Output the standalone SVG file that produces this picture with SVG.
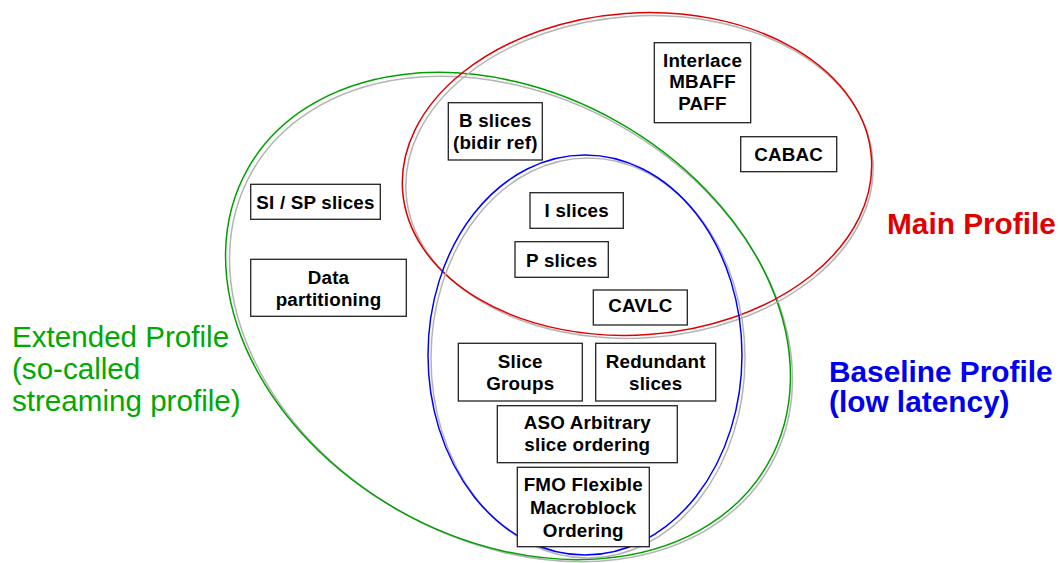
<svg xmlns="http://www.w3.org/2000/svg" width="1060" height="563" viewBox="0 0 1060 563">
<style>
.sh{fill:none;stroke:#b4b4b4;stroke-width:1.5}
.el{fill:none;stroke-width:1.5}
.box{fill:#fff;stroke:#222;stroke-width:1.3}
.t{font-family:"Liberation Sans",Arial,sans-serif;font-weight:bold;font-size:18.8px;letter-spacing:0.2px;fill:#000;text-anchor:middle}
.lab{font-family:"Liberation Sans",Arial,sans-serif;font-size:29.6px}
.bl{font-size:29.8px;font-weight:bold}
</style>
<rect width="1060" height="563" fill="#fff"/>
<g id="extended-profile">
<ellipse class="sh" cx="511" cy="319" rx="298" ry="222" transform="rotate(29.5 511 319)"/>
<ellipse class="el" stroke="#00a000" cx="508" cy="316" rx="299" ry="223" transform="rotate(29.5 508 316)"/>
<text class="lab" fill="#00a800" x="12" y="347">Extended Profile</text>
<text class="lab" fill="#00a800" x="12" y="379">(so-called</text>
<text class="lab" fill="#00a800" x="12" y="411">streaming profile)</text>
</g>
<g id="main-profile">
<ellipse class="sh" cx="639.5" cy="177" rx="234" ry="161" transform="rotate(-4 639.5 177)"/>
<ellipse class="el" stroke="#e00000" cx="637" cy="174" rx="235" ry="161" transform="rotate(-4 637 174)"/>
<text class="lab bl" fill="#e00000" x="887" y="234">Main Profile</text>
</g>
<g id="baseline-profile">
<ellipse class="sh" cx="588" cy="358" rx="157" ry="200"/>
<ellipse class="el" stroke="#0000ff" cx="585" cy="355" rx="157" ry="200"/>
<text class="lab bl" fill="#0000ee" x="829" y="382">Baseline Profile</text>
<text class="lab bl" fill="#0000ee" x="829" y="412">(low latency)</text>
</g>
<g id="interlace">
<rect class="box" x="654.3" y="42.7" width="96.4" height="80"/>
<text class="t" x="702.5" y="66.7">Interlace</text>
<text class="t" x="702.5" y="88.3">MBAFF</text>
<text class="t" x="702.5" y="110">PAFF</text>
</g>
<g id="cabac">
<rect class="box" x="740.7" y="136.7" width="96" height="35"/>
<text class="t" x="788.7" y="161">CABAC</text>
</g>
<g id="b-slices">
<rect class="box" x="448.3" y="102.7" width="94" height="57.3"/>
<text class="t" x="495.3" y="126.7">B slices</text>
<text class="t" x="495.3" y="148.5">(bidir ref)</text>
</g>
<g id="si-sp-slices">
<rect class="box" x="250.7" y="184.3" width="129.6" height="35"/>
<text class="t" x="315.5" y="209">SI / SP slices</text>
</g>
<g id="data-partitioning">
<rect class="box" x="250.7" y="259.3" width="155.6" height="57"/>
<text class="t" x="328.5" y="284">Data</text>
<text class="t" x="328.5" y="305.7">partitioning</text>
</g>
<g id="i-slices">
<rect class="box" x="530" y="192.7" width="93.3" height="35.6"/>
<text class="t" x="576.7" y="216.7">I slices</text>
</g>
<g id="p-slices">
<rect class="box" x="515" y="241.7" width="93.3" height="35.6"/>
<text class="t" x="561.7" y="266.7">P slices</text>
</g>
<g id="cavlc">
<rect class="box" x="593.3" y="290" width="94" height="35"/>
<text class="t" x="640.3" y="312.3">CAVLC</text>
</g>
<g id="slice-groups">
<rect class="box" x="458.3" y="343.3" width="124" height="57.7"/>
<text class="t" x="520.3" y="368.3">Slice</text>
<text class="t" x="520.3" y="390">Groups</text>
</g>
<g id="redundant-slices">
<rect class="box" x="595.7" y="343.3" width="120" height="57.7"/>
<text class="t" x="655.7" y="368.3">Redundant</text>
<text class="t" x="655.7" y="390">slices</text>
</g>
<g id="aso">
<rect class="box" x="497.3" y="405.7" width="180" height="57"/>
<text class="t" x="587.3" y="429">ASO Arbitrary</text>
<text class="t" x="587.3" y="450.5">slice ordering</text>
</g>
<g id="fmo">
<rect class="box" x="517.3" y="467.3" width="132" height="79.4"/>
<text class="t" x="583.3" y="490.7">FMO Flexible</text>
<text class="t" x="583.3" y="513.5">Macroblock</text>
<text class="t" x="583.3" y="536.5">Ordering</text>
</g>
</svg>
